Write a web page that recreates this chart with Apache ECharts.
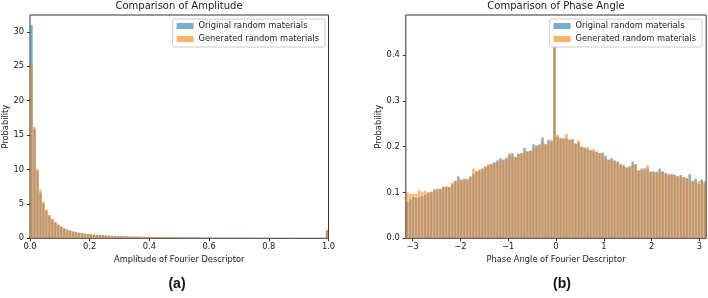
<!DOCTYPE html>
<html>
<head>
<meta charset="utf-8">
<script src="https://cdn.jsdelivr.net/npm/echarts@6.0.0/dist/echarts.min.js"></script>
<style>
  html, body { margin: 0; padding: 0; background: #fff; }
  #chart { width: 708px; height: 298px; }
</style>
</head>
<body>
<div id="chart"></div>
<script>
  // amplitude histogram, 100 bins on [0, 1]
  const ampRange = [0, 1];
  const ampOriginal = [
    31.0, 15.9, 9.8, 6.6, 5.1, 4.0, 3.3, 2.75, 2.3, 1.95,
    1.66, 1.43, 1.22, 1.1, 0.98, 0.88, 0.8, 0.73, 0.67, 0.62,
    0.57, 0.53, 0.49, 0.46, 0.43, 0.4, 0.38, 0.36, 0.34, 0.32,
    0.3, 0.29, 0.27, 0.26, 0.25, 0.24, 0.23, 0.22, 0.21, 0.2,
    0.19, 0.18, 0.18, 0.17, 0.16, 0.16, 0.15, 0.15, 0.14, 0.14,
    0.13, 0.13, 0.12, 0.12, 0.12, 0.11, 0.11, 0.11, 0.1, 0.1,
    0.1, 0.1, 0.09, 0.09, 0.09, 0.09, 0.08, 0.08, 0.08, 0.08,
    0.08, 0.07, 0.07, 0.07, 0.07, 0.02, 0.01, 0.01, 0.09, 0.01,
    0, 0, 0, 0, 0, 0, 0, 0, 0, 0,
    0, 0, 0, 0, 0, 0, 0, 0, 0, 1.15
  ];
  const ampGenerated = [
    25.2, 16.2, 10.1, 7.1, 5.3, 4.2, 3.4, 2.85, 2.37, 2.0,
    1.7, 1.46, 1.24, 1.11, 1.0, 0.89, 0.81, 0.74, 0.68, 0.62,
    0.58, 0.53, 0.5, 0.46, 0.43, 0.41, 0.38, 0.36, 0.34, 0.32,
    0.31, 0.29, 0.28, 0.26, 0.25, 0.24, 0.23, 0.22, 0.21, 0.2,
    0.19, 0.19, 0.18, 0.17, 0.17, 0.16, 0.15, 0.15, 0.14, 0.14,
    0.13, 0.13, 0.13, 0.12, 0.12, 0.11, 0.11, 0.1, 0.1, 0.1,
    0.1, 0.09, 0.09, 0.09, 0.09, 0.09, 0.08, 0.08, 0.08, 0.08,
    0.08, 0.07, 0.07, 0.07, 0.06, 0.02, 0.01, 0.01, 0.01, 0.01,
    0, 0, 0, 0, 0, 0, 0, 0, 0.08, 0,
    0, 0, 0, 0, 0, 0, 0, 0, 0, 1.2
  ];

  // phase histogram, 100 bins on [-pi, pi]
  const phaseRange = [-Math.PI, Math.PI];
  const phaseOriginal = [
    0.08, 0.085, 0.09, 0.088, 0.09, 0.092, 0.095, 0.1, 0.102, 0.105,
    0.108, 0.108, 0.112, 0.113, 0.112, 0.118, 0.124, 0.135, 0.128, 0.13,
    0.128, 0.135, 0.14, 0.145, 0.148, 0.152, 0.156, 0.16, 0.162, 0.166,
    0.17, 0.175, 0.172, 0.176, 0.183, 0.186, 0.178, 0.185, 0.186, 0.197,
    0.19, 0.192, 0.205, 0.203, 0.205, 0.22, 0.205, 0.215, 0.212, 0.46,
    0.222, 0.217, 0.218, 0.218, 0.214, 0.216, 0.207, 0.209, 0.2, 0.198,
    0.195, 0.192, 0.19, 0.188, 0.186, 0.186, 0.18, 0.172, 0.175, 0.17,
    0.168, 0.161, 0.16, 0.155, 0.155, 0.167, 0.162, 0.148, 0.15, 0.153,
    0.152, 0.145, 0.146, 0.145, 0.152, 0.146, 0.143, 0.14, 0.14, 0.138,
    0.135, 0.138, 0.134, 0.13, 0.14, 0.125, 0.13, 0.118, 0.128, 0.124
  ];
  const phaseGenerated = [
    0.1, 0.097, 0.097, 0.097, 0.105, 0.102, 0.103, 0.1, 0.1, 0.108,
    0.106, 0.108, 0.113, 0.113, 0.112, 0.122, 0.126, 0.128, 0.127, 0.128,
    0.13, 0.134, 0.152, 0.148, 0.15, 0.152, 0.158, 0.161, 0.163, 0.163,
    0.166, 0.17, 0.169, 0.172, 0.185, 0.178, 0.177, 0.183, 0.185, 0.19,
    0.19, 0.19, 0.198, 0.2, 0.202, 0.21, 0.206, 0.208, 0.215, 0.464,
    0.226, 0.22, 0.218, 0.228, 0.216, 0.217, 0.206, 0.214, 0.2, 0.197,
    0.2, 0.193, 0.195, 0.19, 0.186, 0.187, 0.175, 0.171, 0.17, 0.169,
    0.164, 0.162, 0.156, 0.155, 0.158, 0.16, 0.16, 0.148, 0.153, 0.148,
    0.16, 0.146, 0.145, 0.143, 0.146, 0.145, 0.14, 0.138, 0.14, 0.139,
    0.136, 0.135, 0.132, 0.132, 0.128, 0.126, 0.122, 0.125, 0.124, 0.12
  ];

  const ampYTicks = [0, 5, 10, 15, 20, 25, 30];
  const ampXTicks = [0, 0.2, 0.4, 0.6, 0.8, 1.0];
  const phaseYTicks = [0, 0.1, 0.2, 0.3, 0.4];
  const phaseXTicks = [-3, -2, -1, 0, 1, 2, 3];

  const seriesNames = ['Original random materials', 'Generated random materials'];
  const blue = 'rgba(31,119,180,0.6)';
  const orange = 'rgba(255,127,14,0.6)';

  const font = 'DejaVu Sans';
  const textColor = '#1a1a1a';

  // turn bin counts into [left edge, right edge, value]
  const toBins = (range, values) => {
    const w = (range[1] - range[0]) / values.length;
    return values.map((v, i) => [range[0] + i * w, range[0] + (i + 1) * w, v]);
  };

  const renderBin = (params, api) => {
    const base = api.coord([api.value(0), 0]);
    const top = api.coord([api.value(1), api.value(2)]);
    const w = top[0] - base[0];
    return {
      type: 'rect',
      shape: { x: base[0] + w * 0.1, y: top[1], width: w * 0.8, height: base[1] - top[1] },
      style: api.style()
    };
  };

  const histSeries = (name, color, idx, range, values) => ({
    name,
    type: 'custom',
    xAxisIndex: idx,
    yAxisIndex: idx,
    renderItem: renderBin,
    itemStyle: { color },
    encode: { x: [0, 1], y: 2 },
    data: toBins(range, values),
    silent: true,
    animation: false
  });

  const minus = (v) => (v < 0 ? '\u2212' + (-v) : String(v));

  const xAxisFor = (idx, range, ticks, fmt, name) => ({
    type: 'value',
    gridIndex: idx,
    min: range[0],
    max: range[1],
    name,
    nameLocation: 'middle',
    nameGap: 16,
    nameTextStyle: { fontFamily: font, fontSize: 8.3, color: textColor },
    splitLine: { show: false },
    axisLine: { show: false, onZero: false },
    axisTick: { show: true, customValues: ticks, length: 3, lineStyle: { color: '#333' } },
    axisLabel: { customValues: ticks, formatter: fmt, margin: 5, fontFamily: font, fontSize: 8.3, color: textColor }
  });

  const yAxisFor = (idx, max, ticks, fmt) => ({
    type: 'value',
    gridIndex: idx,
    min: 0,
    max,
    name: 'Probability',
    nameLocation: 'middle',
    nameRotate: 90,
    nameGap: 20,
    nameTextStyle: { fontFamily: font, fontSize: 8.3, color: textColor },
    splitLine: { show: false },
    axisLine: { show: false, onZero: false },
    axisTick: { show: true, customValues: ticks, length: 3, lineStyle: { color: '#333' } },
    axisLabel: { customValues: ticks, formatter: fmt, margin: 6, fontFamily: font, fontSize: 8.3, color: textColor }
  });

  const legendFor = (right) => ({
    orient: 'vertical',
    right,
    top: 19,
    icon: 'rect',
    itemWidth: 17,
    itemHeight: 6,
    itemGap: 3,
    padding: [2, 6, 3, 4],
    backgroundColor: 'rgba(255,255,255,0.95)',
    borderColor: '#cccccc',
    borderWidth: 1,
    borderRadius: 2,
    selectedMode: false,
    textStyle: { fontFamily: font, fontSize: 8.3, color: textColor, lineHeight: 10 },
    data: [
      { name: seriesNames[0], itemStyle: { color: blue } },
      { name: seriesNames[1], itemStyle: { color: orange } }
    ]
  });

  const chart = echarts.init(document.getElementById('chart'), null, { renderer: 'canvas' });

  chart.setOption({
    animation: false,
    backgroundColor: '#fff',
    title: [
      { text: 'Comparison of Amplitude', left: 179, top: 1, padding: 0, textAlign: 'center',
        textStyle: { fontFamily: font, fontSize: 10, fontWeight: 'normal', color: textColor } },
      { text: 'Comparison of Phase Angle', left: 556, top: 1, padding: 0, textAlign: 'center',
        textStyle: { fontFamily: font, fontSize: 10, fontWeight: 'normal', color: textColor } }
    ],
    graphic: [
      { type: 'text', x: 177, y: 284, style: { text: '(a)', align: 'center', verticalAlign: 'middle',
        font: 'bold 14px "Liberation Sans", Arial, sans-serif', fill: '#111' } },
      { type: 'text', x: 562, y: 284, style: { text: '(b)', align: 'center', verticalAlign: 'middle',
        font: 'bold 14px "Liberation Sans", Arial, sans-serif', fill: '#111' } }
    ],
    legend: [legendFor(383), legendFor(6)],
    grid: [
      { left: 30, top: 15, width: 298.5, height: 223.3, show: true, borderColor: '#333', borderWidth: 1, backgroundColor: 'transparent' },
      { left: 405.8, top: 15, width: 300.4, height: 223.3, show: true, borderColor: '#333', borderWidth: 1, backgroundColor: 'transparent' }
    ],
    xAxis: [
      xAxisFor(0, ampRange, ampXTicks, (v) => v.toFixed(1), 'Amplitude of Fourier Descriptor'),
      xAxisFor(1, phaseRange, phaseXTicks, minus, 'Phase Angle of Fourier Descriptor')
    ],
    yAxis: [
      yAxisFor(0, 32.45, ampYTicks, (v) => String(v)),
      yAxisFor(1, 0.4875, phaseYTicks, (v) => v.toFixed(1))
    ],
    series: [
      histSeries(seriesNames[0], blue, 0, ampRange, ampOriginal),
      histSeries(seriesNames[1], orange, 0, ampRange, ampGenerated),
      histSeries(seriesNames[0], blue, 1, phaseRange, phaseOriginal),
      histSeries(seriesNames[1], orange, 1, phaseRange, phaseGenerated)
    ]
  });
</script>
</body>
</html>
